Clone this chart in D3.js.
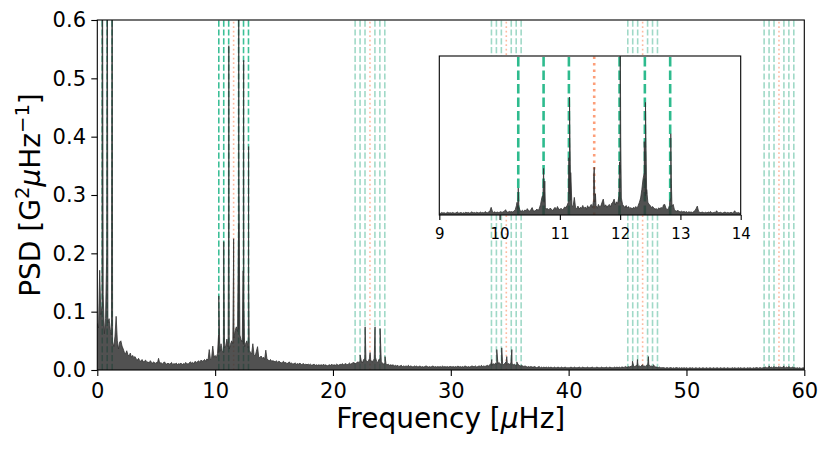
<!DOCTYPE html>
<html><head><meta charset="utf-8">
<script src="https://cdn.jsdelivr.net/npm/d3@7"></script>
<style>
body{margin:0;background:#fff}
text{font-family:"DejaVu Sans",sans-serif;fill:#000}
</style>
</head><body>
<svg id="c" width="830" height="450"></svg>
<script>
// ---------------- DATA ----------------
// main spectrum envelope, grid 0.0 .. 60.0 step 0.1 (PSD in G^2/uHz)
const coarseStart = 0, coarseStep = 0.1;
const psdCoarse = [
0.080,0.072,0.171,0.095,0.110,0.129,0.062,0.088,0.201,0.081,
0.088,0.070,0.060,0.048,0.040,0.058,0.092,0.050,0.036,0.048,
0.050,0.041,0.036,0.030,0.028,0.033,0.026,0.024,0.029,0.022,
0.025,0.021,0.023,0.019,0.017,0.020,0.016,0.015,0.018,0.014,
0.015,0.017,0.013,0.014,0.012,0.016,0.013,0.012,0.014,0.011,
0.013,0.012,0.020,0.011,0.013,0.010,0.012,0.014,0.011,0.010,
0.012,0.010,0.011,0.013,0.009,0.011,0.010,0.012,0.009,0.011,
0.010,0.012,0.009,0.011,0.010,0.013,0.011,0.010,0.012,0.014,
0.012,0.013,0.011,0.015,0.013,0.014,0.016,0.013,0.017,0.015,
0.016,0.018,0.015,0.019,0.017,0.035,0.018,0.020,0.041,0.022,
0.025,0.021,0.028,0.030,0.032,0.045,0.033,0.030,0.038,0.042,
0.053,0.040,0.036,0.044,0.050,0.045,0.055,0.068,0.074,0.066,
0.070,0.060,0.052,0.048,0.044,0.040,0.046,0.050,0.038,0.034,
0.030,0.028,0.045,0.026,0.024,0.032,0.040,0.022,0.021,0.024,
0.020,0.022,0.018,0.034,0.019,0.017,0.016,0.018,0.015,0.016,
0.015,0.014,0.016,0.013,0.015,0.014,0.012,0.013,0.015,0.012,
0.013,0.011,0.012,0.014,0.011,0.012,0.010,0.011,0.012,0.010,
0.011,0.010,0.012,0.009,0.010,0.011,0.009,0.010,0.009,0.010,
0.009,0.010,0.008,0.009,0.010,0.008,0.009,0.008,0.009,0.008,
0.009,0.008,0.010,0.008,0.009,0.007,0.008,0.009,0.008,0.010,
0.008,0.009,0.008,0.010,0.009,0.008,0.010,0.009,0.011,0.009,
0.010,0.011,0.009,0.010,0.012,0.010,0.011,0.013,0.012,0.011,
0.012,0.014,0.013,0.015,0.016,0.012,0.018,0.020,0.017,0.014,
0.015,0.020,0.018,0.013,0.016,0.019,0.022,0.015,0.013,0.018,
0.020,0.014,0.012,0.010,0.013,0.011,0.009,0.010,0.008,0.009,
0.008,0.009,0.007,0.008,0.007,0.008,0.006,0.007,0.008,0.006,
0.007,0.006,0.007,0.006,0.008,0.006,0.007,0.006,0.005,0.007,
0.006,0.007,0.005,0.006,0.007,0.005,0.006,0.005,0.006,0.007,
0.006,0.005,0.006,0.005,0.006,0.007,0.005,0.006,0.005,0.006,
0.005,0.006,0.005,0.007,0.005,0.006,0.005,0.006,0.005,0.006,
0.006,0.005,0.006,0.005,0.006,0.005,0.007,0.005,0.006,0.005,
0.006,0.005,0.007,0.006,0.005,0.006,0.005,0.006,0.007,0.006,
0.006,0.007,0.005,0.006,0.007,0.006,0.008,0.006,0.007,0.006,
0.007,0.008,0.007,0.009,0.010,0.008,0.011,0.009,0.012,0.010,
0.011,0.013,0.010,0.012,0.011,0.009,0.012,0.014,0.010,0.011,
0.010,0.012,0.011,0.009,0.010,0.008,0.009,0.010,0.008,0.007,
0.008,0.007,0.006,0.007,0.006,0.005,0.006,0.005,0.006,0.005,
0.005,0.006,0.005,0.004,0.005,0.006,0.004,0.005,0.004,0.005,
0.004,0.005,0.004,0.005,0.004,0.005,0.004,0.004,0.005,0.004,
0.004,0.005,0.004,0.004,0.005,0.004,0.004,0.005,0.004,0.004,
0.004,0.004,0.005,0.004,0.004,0.005,0.004,0.004,0.004,0.005,
0.004,0.004,0.005,0.004,0.004,0.004,0.005,0.004,0.004,0.004,
0.005,0.004,0.004,0.004,0.005,0.004,0.004,0.004,0.005,0.004,
0.004,0.004,0.005,0.004,0.004,0.005,0.004,0.004,0.004,0.005,
0.004,0.005,0.004,0.005,0.004,0.005,0.005,0.004,0.006,0.005,
0.005,0.006,0.005,0.007,0.006,0.008,0.006,0.007,0.008,0.006,
0.007,0.006,0.008,0.006,0.007,0.006,0.008,0.007,0.010,0.006,
0.007,0.006,0.008,0.006,0.005,0.005,0.004,0.005,0.004,0.004,
0.004,0.004,0.003,0.004,0.004,0.003,0.004,0.004,0.003,0.004,
0.003,0.004,0.004,0.003,0.004,0.003,0.004,0.003,0.004,0.003,
0.004,0.003,0.003,0.004,0.003,0.004,0.003,0.003,0.004,0.003,
0.003,0.004,0.003,0.003,0.004,0.003,0.003,0.004,0.003,0.003,
0.004,0.003,0.003,0.004,0.003,0.003,0.004,0.003,0.003,0.004,
0.003,0.003,0.004,0.003,0.003,0.004,0.003,0.003,0.003,0.004,
0.003,0.004,0.003,0.003,0.004,0.003,0.004,0.003,0.003,0.004,
0.003,0.003,0.004,0.003,0.004,0.003,0.003,0.004,0.003,0.004,
0.004,0.003,0.004,0.004,0.003,0.004,0.004,0.005,0.004,0.004,
0.005,0.004,0.005,0.004,0.005,0.004,0.005,0.004,0.005,0.004,
0.005,0.004,0.005,0.004,0.004,0.005,0.004,0.005,0.004,0.004,
0.005,0.004,0.004,0.003,0.004,0.003,0.004,0.003,0.003,0.004,
0.003
];

// inset spectrum, grid 9.00 .. 14.00 step 0.02
const fineStart = 9, fineStep = 0.02;
const psdFine = [
0.010,0.008,0.012,0.009,0.011,0.008,0.010,0.013,0.009,0.011,
0.009,0.012,0.010,0.008,0.011,0.014,0.009,0.010,0.012,0.008,
0.011,0.009,0.013,0.010,0.012,0.009,0.011,0.015,0.010,0.012,
0.010,0.013,0.011,0.009,0.014,0.011,0.012,0.010,0.016,0.012,
0.011,0.014,0.020,0.036,0.018,0.012,0.015,0.011,0.014,0.012,
0.013,0.016,0.012,0.015,0.018,0.025,0.014,0.013,0.017,0.015,
0.016,0.014,0.019,0.025,0.045,0.030,0.040,0.020,0.018,0.022,
0.017,0.024,0.019,0.030,0.021,0.018,0.026,0.035,0.020,0.019,
0.022,0.028,0.020,0.032,0.050,0.080,0.090,0.060,0.035,0.028,
0.030,0.024,0.033,0.027,0.021,0.029,0.036,0.025,0.040,0.028,
0.026,0.032,0.024,0.030,0.038,0.035,0.045,0.060,0.100,0.070,
0.045,0.040,0.083,0.035,0.030,0.042,0.028,0.036,0.032,0.045,
0.030,0.038,0.027,0.044,0.033,0.040,0.050,0.035,0.070,0.060,
0.045,0.032,0.050,0.038,0.042,0.060,0.075,0.040,0.048,0.036,
0.044,0.050,0.038,0.055,0.060,0.075,0.048,0.062,0.055,0.090,
0.200,0.080,0.050,0.042,0.036,0.045,0.033,0.040,0.030,0.035,
0.028,0.036,0.032,0.040,0.030,0.045,0.060,0.080,0.120,0.170,
0.200,0.090,0.100,0.060,0.050,0.045,0.035,0.040,0.032,0.028,
0.030,0.025,0.034,0.028,0.036,0.030,0.048,0.050,0.032,0.026,
0.030,0.045,0.080,0.040,0.050,0.025,0.020,0.018,0.022,0.016,
0.015,0.018,0.014,0.017,0.013,0.016,0.012,0.015,0.013,0.014,
0.012,0.016,0.020,0.030,0.042,0.018,0.013,0.011,0.014,0.012,
0.011,0.013,0.010,0.014,0.012,0.016,0.011,0.010,0.013,0.011,
0.020,0.012,0.010,0.013,0.011,0.009,0.012,0.014,0.010,0.012,
0.011,0.010,0.013,0.009,0.012,0.020,0.011,0.010,0.012,0.009,
0.010
];

// narrow mode peaks
const peakFreq = [0.42,0.84,1.26,
  10.29,10.31,10.71,10.73,10.75,11.15,11.16,11.18,11.56,11.57,11.59,
  11.99,12.00,12.01,12.38,12.40,12.42,12.44,12.82,12.84,12.85,
  21.87,22.30,22.73,23.15,23.57,24.00,24.42,
  33.48,33.90,34.32,34.75,35.18,35.60,
  45.42,45.84,46.30,46.77,47.20,
  57.01,57.43,57.85,58.27,58.69];
const peakPSD = [0.95,0.90,0.85,
  0.060,0.127,0.090,0.220,0.160,0.270,0.556,0.200,0.180,0.225,0.100,
  0.250,1.000,0.350,0.170,0.346,0.531,0.120,0.060,0.383,0.150,
  0.012,0.026,0.074,0.030,0.074,0.071,0.023,
  0.018,0.035,0.038,0.023,0.035,0.014,
  0.015,0.018,0.009,0.023,0.009,
  0.007,0.006,0.006,0.007,0.006];

// predicted mode frequencies (dashed) and central frequencies (dotted)
const greenLines = [0.42,0.84,1.26,
  10.31,10.73,11.15,11.99,12.41,12.83,
  21.88,22.30,22.72,23.56,23.98,24.40,
  33.45,33.87,34.29,35.13,35.55,35.97,
  45.02,45.44,45.86,46.70,47.12,47.54,
  56.59,57.01,57.43,58.27,58.69,59.11];
const orangeLines = [11.57,23.14,34.71,46.28,57.85];

const xTicksMain = [0,10,20,30,40,50,60];
const yTicksMain = [0.0,0.1,0.2,0.3,0.4,0.5,0.6];
const xTicksInset = [9,10,11,12,13,14];

// ---------------- DRAW ----------------
const svg = d3.select("#c");
const M = {l:97.3, r:804.3, t:20, b:370};
const I = {l:439.3, r:740.7, t:56, b:215};
const x = d3.scaleLinear([0,60],[M.l,M.r]);
const y = d3.scaleLinear([0,0.6],[M.b,M.t]);
const xi = d3.scaleLinear([9,14],[I.l,I.r]);
const yi = d3.scaleLinear([0,0.75],[I.b,I.t]);

const peakPts = peakFreq.map((f,i)=>[f,peakPSD[i]]);
const mainPts = psdCoarse.map((v,i)=>[coarseStart+i*coarseStep,v])
  .concat(peakPts).sort((a,b)=>a[0]-b[0]);
const insetPts = psdFine.map((v,i)=>[fineStart+i*fineStep,v])
  .concat(peakPts.filter(p=>p[0]>=9&&p[0]<=14)).sort((a,b)=>a[0]-b[0]);

const defs = svg.append("defs");
defs.append("clipPath").attr("id","cm").append("rect")
  .attr("x",M.l).attr("y",M.t).attr("width",M.r-M.l).attr("height",M.b-M.t);
defs.append("clipPath").attr("id","ci").append("rect")
  .attr("x",I.l).attr("y",I.t).attr("width",I.r-I.l).attr("height",I.b-I.t);

// main vertical lines
const gm = svg.append("g").attr("clip-path","url(#cm)");
gm.selectAll("line.g").data(greenLines).join("line")
  .attr("x1",d=>x(d)).attr("x2",d=>x(d)).attr("y1",M.b).attr("y2",M.t)
  .attr("stroke",d=>d<15?"#3cbf97":"#66c2a5")
  .attr("stroke-opacity",d=>d<15?1:0.62)
  .attr("stroke-width",1.6).attr("stroke-dasharray","6.2,2.6");
gm.selectAll("line.o").data(orangeLines).join("line")
  .attr("x1",d=>x(d)).attr("x2",d=>x(d)).attr("y1",M.b).attr("y2",M.t)
  .attr("stroke","#fc8d62").attr("stroke-opacity",0.6)
  .attr("stroke-width",1.6).attr("stroke-dasharray","1.7,2.8");

// main spectrum
const areaM = d3.area().x(d=>x(d[0])).y0(y(0)).y1(d=>y(d[1]));
const lineM = d3.line().x(d=>x(d[0])).y(d=>y(d[1]));
gm.append("path").datum(mainPts).attr("d",areaM).attr("fill","#333").attr("fill-opacity",0.85);
gm.append("path").datum(mainPts).attr("d",lineM).attr("fill","none")
  .attr("stroke","#333").attr("stroke-opacity",0.8).attr("stroke-width",1);

// main frame and axes
svg.append("rect").attr("x",M.l).attr("y",M.t).attr("width",M.r-M.l).attr("height",M.b-M.t)
  .attr("fill","none").attr("stroke","#000").attr("stroke-width",1.1);
const ax = svg.append("g").attr("transform",`translate(0,${M.b})`)
  .call(d3.axisBottom(x).tickValues(xTicksMain).tickFormat(d3.format("d")).tickSize(6).tickPadding(7));
const ay = svg.append("g").attr("transform",`translate(${M.l},0)`)
  .call(d3.axisLeft(y).tickValues(yTicksMain).tickFormat(d3.format(".1f")).tickSize(6).tickPadding(5.3));
[ax,ay].forEach(a=>{
  a.select(".domain").remove();
  a.selectAll(".tick line").attr("stroke","#000").attr("stroke-width",1.1);
  a.selectAll(".tick text").attr("font-family","DejaVu Sans").attr("font-size",21).attr("fill","#000");
});

// axis labels
const xl = svg.append("text").attr("x",(M.l+M.r)/2).attr("y",428)
  .attr("text-anchor","middle").attr("font-size",28);
xl.append("tspan").text("Frequency [");
xl.append("tspan").attr("font-style","italic").text("\u03bc");
xl.append("tspan").text("Hz]");

const yl = svg.append("text").attr("transform",`translate(40,${(M.t+M.b)/2}) rotate(-90)`)
  .attr("text-anchor","middle").attr("font-size",28);
yl.append("tspan").text("PSD [G");
yl.append("tspan").attr("font-size",19.6).attr("dy",-11).text("2");
yl.append("tspan").attr("font-style","italic").attr("dy",11).text("\u03bc");
yl.append("tspan").text("Hz");
yl.append("tspan").attr("font-size",19.6).attr("dy",-11).text("\u22121");
yl.append("tspan").attr("dy",11).text("]");

// ---------------- INSET ----------------
svg.append("rect").attr("x",I.l).attr("y",I.t).attr("width",I.r-I.l).attr("height",I.b-I.t)
  .attr("fill","#fff");
const gi = svg.append("g").attr("clip-path","url(#ci)");
gi.selectAll("line.g").data(greenLines.filter(d=>d>=9&&d<=14)).join("line")
  .attr("x1",d=>xi(d)).attr("x2",d=>xi(d)).attr("y1",I.b).attr("y2",I.t)
  .attr("stroke","#2ebb8e").attr("stroke-width",2.6).attr("stroke-dasharray","9.5,4");
gi.selectAll("line.o").data(orangeLines.filter(d=>d>=9&&d<=14)).join("line")
  .attr("x1",d=>xi(d)).attr("x2",d=>xi(d)).attr("y1",I.b).attr("y2",I.t)
  .attr("stroke","#fc8d62").attr("stroke-opacity",0.85)
  .attr("stroke-width",2.6).attr("stroke-dasharray","2.5,4");
const areaI = d3.area().x(d=>xi(d[0])).y0(yi(0)).y1(d=>yi(d[1]));
const lineI = d3.line().x(d=>xi(d[0])).y(d=>yi(d[1]));
gi.append("path").datum(insetPts).attr("d",areaI).attr("fill","#333").attr("fill-opacity",0.85);
gi.append("path").datum(insetPts).attr("d",lineI).attr("fill","none")
  .attr("stroke","#333").attr("stroke-opacity",0.8).attr("stroke-width",1);
svg.append("rect").attr("x",I.l).attr("y",I.t).attr("width",I.r-I.l).attr("height",I.b-I.t)
  .attr("fill","none").attr("stroke","#000").attr("stroke-width",1.1);
const axi = svg.append("g").attr("transform",`translate(0,${I.b})`)
  .call(d3.axisBottom(xi).tickValues(xTicksInset).tickFormat(d3.format("d")).tickSize(5).tickPadding(8));
axi.select(".domain").remove();
axi.selectAll(".tick line").attr("stroke","#000").attr("stroke-width",1.1);
axi.selectAll(".tick text").attr("font-family","DejaVu Sans").attr("font-size",15).attr("fill","#000");
</script>
</body></html>
